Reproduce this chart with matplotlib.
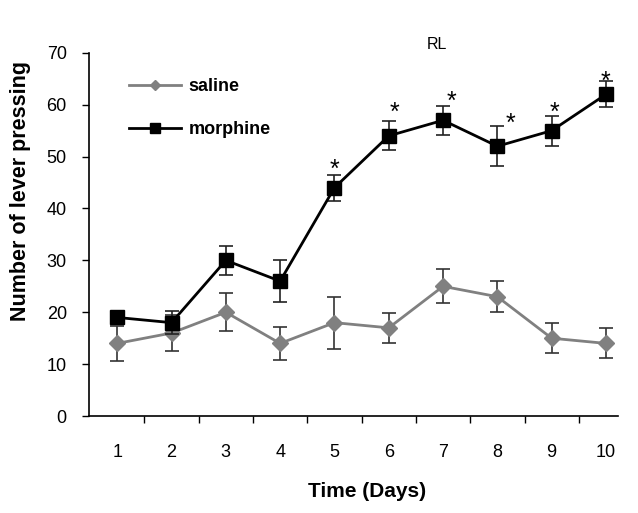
import numpy as np
import matplotlib
matplotlib.use("Agg")
import matplotlib.pyplot as plt
from matplotlib.lines import Line2D

plt.rcParams["font.family"] = ["Liberation Sans", "DejaVu Sans"]

days = [1, 2, 3, 4, 5, 6, 7, 8, 9, 10]
saline = [14, 16, 20, 14, 18, 17, 25, 23, 15, 14]
saline_err = [3.3, 3.4, 3.7, 3.2, 5.0, 2.9, 3.3, 3.0, 2.9, 2.9]
morphine = [19, 18, 30, 26, 44, 54, 57, 52, 55, 62]
morphine_err = [1.0, 2.2, 2.8, 4.0, 2.5, 2.8, 2.8, 3.9, 2.9, 2.5]
# significance stars: day, height
star_days = [5, 6.1, 7.15, 8.25, 9.05, 10]
star_y = [47.5, 58.5, 60.5, 56.3, 58.5, 64.4]

fig = plt.figure(figsize=(6.38, 5.13), dpi=100)
ax = fig.add_axes([0.1395, 0.189, 0.829, 0.708])

ax.errorbar(days, saline, yerr=saline_err, color="#808080", marker="D",
            markersize=8.5, linewidth=2, ecolor="#333333", elinewidth=1.2,
            capsize=5, capthick=1.2, zorder=2)
ax.errorbar(days, morphine, yerr=morphine_err, color="black", marker="s",
            markersize=10, linewidth=2, ecolor="#222222", elinewidth=1.2,
            capsize=5, capthick=1.2, zorder=3)

for x, y in zip(star_days, star_y):
    ax.text(x, y, "*", ha="center", va="center", fontsize=18)

ax.text(6.88, 71.6, "RL", ha="center", va="center", fontsize=11.5)

ax.set_xlim(0.48, 10.22)
ax.set_ylim(0, 70)
ax.set_yticks(range(0, 71, 10))
ax.set_xticks(days)
ax.set_xticks(np.arange(1.5, 10, 1), minor=True)
ax.tick_params(axis="x", which="major", length=0, pad=20, labelsize=13)
ax.tick_params(axis="x", which="minor", length=5, width=1)
ax.tick_params(axis="y", length=5, width=1, labelsize=13, pad=11)
ax.spines["top"].set_visible(False)
ax.spines["right"].set_visible(False)
ax.spines["left"].set_linewidth(1.2)
ax.spines["bottom"].set_linewidth(1.2)

ax.set_xlabel("Time (Days)", fontsize=15, fontweight="bold")
ax.xaxis.set_label_coords(0.525, -0.209)
ax.xaxis.label.set_va("center")
ax.set_ylabel("Number of lever pressing", fontsize=15.5, fontweight="bold")
ax.yaxis.set_label_coords(-0.13, 0.62)
ax.yaxis.label.set_va("center")

handles = [Line2D([], [], color="#808080", marker="D", markersize=5, linewidth=2),
           Line2D([], [], color="black", marker="s", markersize=7, linewidth=2)]
ax.legend(handles, ["saline", "morphine"], loc="upper left",
          bbox_to_anchor=(0.045, 0.975), frameon=False,
          prop={"weight": "bold", "size": 13}, handlelength=2.9,
          handletextpad=0.4, labelspacing=1.45)

fig.savefig("out.png", dpi=100)
